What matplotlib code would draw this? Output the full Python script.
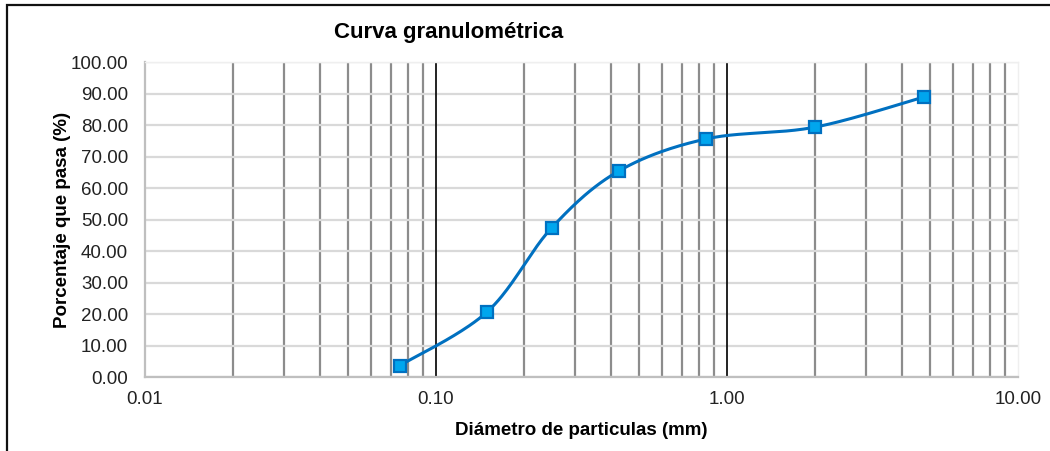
import numpy as np
import matplotlib.pyplot as plt
from matplotlib.ticker import FixedLocator, FixedFormatter, NullFormatter
from matplotlib.patches import Rectangle

plt.rcParams['font.family'] = ['Liberation Sans', 'DejaVu Sans']

## Sieve data
diametro = [0.075, 0.15, 0.25, 0.425, 0.85, 2.0, 4.75]
pasa = [3.6, 20.7, 47.4, 65.4, 75.6, 79.3, 88.9]

x_ticks = [0.01, 0.1, 1.0, 10.0]
x_labels = ['0.01', '0.10', '1.00', '10.00']
y_ticks = np.arange(0, 101, 10)


## Smoothed line through the points (Catmull-Rom bezier in screen space)
def smooth(ax, xs, ys, n=40):
    pts = ax.transData.transform(np.column_stack([xs, ys]))
    p = np.vstack([pts[0], pts, pts[-1]])
    out = []
    for i in range(1, len(p) - 2):
        p0, p1, p2, p3 = p[i - 1], p[i], p[i + 1], p[i + 2]
        c1 = p1 + (p2 - p0) / 6.0
        c2 = p2 - (p3 - p1) / 6.0
        t = np.linspace(0, 1, n)[:, None]
        seg = ((1 - t)**3 * p1 + 3 * (1 - t)**2 * t * c1
               + 3 * (1 - t) * t**2 * c2 + t**3 * p2)
        out.append(seg if i == 1 else seg[1:])
    curve = ax.transData.inverted().transform(np.vstack(out))
    return curve[:, 0], curve[:, 1]


fig = plt.figure(figsize=(10.5, 4.51), dpi=100)
ax = fig.add_axes([0.138, 0.164, 0.8315, 0.6985])

ax.set_xscale('log')
ax.set_xlim(0.01, 10)
ax.set_ylim(0, 100)

ax.xaxis.set_major_locator(FixedLocator(x_ticks))
ax.xaxis.set_major_formatter(FixedFormatter(x_labels))
minors = [m * 10.0**e for e in (-2, -1, 0) for m in range(2, 10)]
ax.xaxis.set_minor_locator(FixedLocator(minors))
ax.xaxis.set_minor_formatter(NullFormatter())
ax.set_yticks(y_ticks)
ax.set_yticklabels(['%.2f' % v for v in y_ticks])

ax.tick_params(which='both', length=0, labelsize=13.5, colors='#222222')
ax.tick_params(axis='x', pad=10)
ax.tick_params(axis='y', pad=12)

## grid
ax.grid(axis='y', color='#d9d9d9', linewidth=1.6)
ax.grid(axis='x', which='minor', color='#8c8c8c', linewidth=1.6)
for v in [0.1, 1.0]:
    ax.axvline(v, color='#111111', linewidth=1.3, zorder=1)
ax.set_axisbelow(True)

for s in ['left', 'bottom']:
    ax.spines[s].set_color('#bfbfbf')
    ax.spines[s].set_linewidth(1.6)
for s in ['top', 'right']:
    ax.spines[s].set_color('#efefef')
    ax.spines[s].set_linewidth(1.0)

fig.canvas.draw()
sx, sy = smooth(ax, diametro, pasa)
ax.plot(sx, sy, color='#0070c0', linewidth=2.2, zorder=3)
ax.plot(diametro, pasa, linestyle='none', marker='s', markersize=8,
        markerfacecolor='#00a6ee', markeredgecolor='#0070c0',
        markeredgewidth=1.6, zorder=4)

ax.set_xlabel('Diámetro de particulas (mm)', fontsize=13.5, fontweight='bold',
              labelpad=10)
ax.set_ylabel('Porcentaje que pasa (%)', fontsize=13.5, fontweight='bold',
              labelpad=0)
fig.text(0.427, 0.927, 'Curva granulométrica', fontsize=16, fontweight='bold',
         ha='center', va='center')

## chart frame
fig.patches.append(Rectangle((0.0067, -0.1), 1.2, 1.088, transform=fig.transFigure,
                             fill=False, edgecolor='#111111', linewidth=1.6))

fig.savefig('out.png', dpi=100)
